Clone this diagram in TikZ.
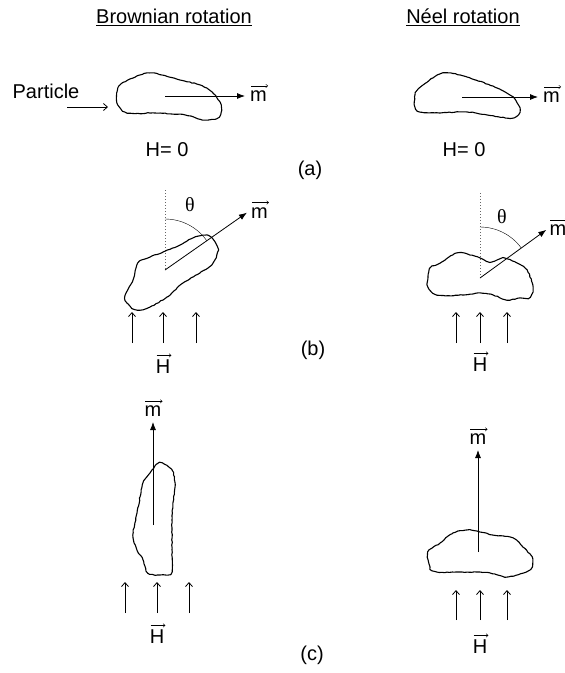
\documentclass[tikz,border=0pt]{standalone}
\usepackage{fontspec}
\setmainfont{Liberation Sans}
\newfontfamily\greekfont{Liberation Serif}
\usetikzlibrary{arrows.meta, positioning, decorations.pathmorphing}
\tikzset{every node/.style={font=\fontsize{20}{24}\selectfont, inner sep=1pt},
    particle/.style={line width=1.1pt, line join=round,
        decoration={random steps, segment length=2.5pt, amplitude=0.4pt}, decorate},
    moment/.style={-{Latex[length=8pt, width=6pt]}, line width=0.8pt},
    field/.style={-{Straight Barb[length=4pt, width=7pt]}, line width=0.8pt},
    axis/.style={dotted, line width=1pt, black!60},
    vecarrow/.style={draw, -{Straight Barb[length=2pt, width=3.5pt]}, line width=0.45pt},
    vector/.style={append after command={([xshift=2pt, yshift=3.5pt]\tikzlastnode.north west)
        edge[vecarrow] ([xshift=0pt, yshift=3.5pt]\tikzlastnode.north east)}}}

\begin{document}
\begin{tikzpicture}[x=1pt, y=-1pt]
    \useasboundingbox (0,0) rectangle (565,673);
    \node (brownian) at (174,17) {\underline{Brownian rotation}};
    \node (neel) at (463,17) {\underline{Néel rotation}};

    % (a) no field
    \node (particle) at (46,91) {Particle};
    \coordinate (pin) at (67,107);
    \coordinate (pout) at (108,107);
    \draw[field] (pin) -- (pout);
    \draw[particle] plot[smooth cycle] coordinates {(118,88) (128,80) (147,73) (162,75) (180,80) (200,85) (212,92)
        (221,105) (219,117) (205,120) (185,115) (155,113) (127,113) (117,103)};
    \coordinate (ca-b) at (165,96);
    \coordinate (ta-b) at (245,96);
    \draw[moment] (ca-b) -- (ta-b);
    \node[vector, right=4pt of ta-b] (ma-b) {m};
    \node (ha-b) at (167,150) {H= 0};

    \draw[particle] plot[smooth cycle] coordinates {(415,95) (423,85) (443,73) (467,77) (497,88) (513,97) (520,110)
        (513,118) (487,115) (467,112) (420,112)};
    \coordinate (ca-n) at (462,97);
    \coordinate (ta-n) at (538,97);
    \draw[moment] (ca-n) -- (ta-n);
    \node[vector, right=4pt of ta-n] (ma-n) {m};
    \node (ha-n) at (464,150) {H= 0};
    \node (lbl-a) at (310,170) {(a)};

    % (b) field switched on
    \coordinate (cb-b) at (165,270);
    \draw[axis] (165,190) -- (cb-b);
    \draw[particle] plot[smooth cycle] coordinates {(125,298) (133,280) (138,263) (150,257) (163,252) (180,245)
        (193,238) (207,235) (215,242) (218,250) (213,263) (200,273) (183,283) (167,297) (150,307) (140,310) (132,308)};
    \draw[moment] (cb-b) -- ++(-35:100) coordinate (tb-b);
    \draw (cb-b) ++(-90:51) arc[start angle=-90, end angle=-35, radius=51];
    \node (thb-b) at (190,205) {\greekfont θ};
    \node[vector, right=3pt of tb-b] (mb-b) {m};
    \foreach \x in {132,163,196}
        \draw[field] (\x,343) -- (\x,312);
    \node[vector] (hb-b) at (163,367) {H};

    \coordinate (cb-n) at (480,278);
    \draw[axis] (480,193) -- (cb-n);
    \draw[particle] plot[smooth cycle] coordinates {(428,277) (430,268) (440,263) (457,253) (470,255) (480,258)
        (490,262) (503,258) (517,263) (527,270) (533,287) (530,297) (520,298) (507,300) (493,295) (480,293)
        (463,295) (437,295) (428,287)};
    \draw[moment] (cb-n) -- ++(-36:82) coordinate (tb-n);
    \draw (cb-n) ++(-90:51) arc[start angle=-90, end angle=-36, radius=51];
    \node (thb-n) at (502,217) {\greekfont θ};
    \node[vector, right=2pt of tb-n] (mb-n) {m};
    \foreach \x in {456,480,507}
        \draw[field] (\x,343) -- (\x,312);
    \node[vector] (hb-n) at (480,365) {H};
    \node (lbl-b) at (313,350) {(b)};

    % (c) aligned with the field
    \draw[particle] plot[smooth cycle] coordinates {(160,463) (172,470) (175,487) (173,503) (172,520) (172,550)
        (172,572) (160,575) (148,573) (143,560) (137,550) (133,535) (137,513) (140,497) (143,483) (152,470)};
    \coordinate (cc-b) at (153,525);
    \coordinate (tc-b) at (153,422);
    \draw[moment] (cc-b) -- (tc-b);
    \node[vector, above=4pt of tc-b] (mc-b) {m};
    \foreach \x in {125,157,189}
        \draw[field] (\x,613) -- (\x,582);
    \node[vector] (hc-b) at (157,637) {H};

    \draw[particle] plot[smooth cycle] coordinates {(428,552) (440,543) (453,533) (467,530) (480,532) (493,535)
        (513,538) (523,547) (532,557) (532,567) (523,573) (507,577) (490,573) (477,572) (437,572) (430,567)};
    \coordinate (cc-n) at (478,552);
    \coordinate (tc-n) at (478,450);
    \draw[moment] (cc-n) -- (tc-n);
    \node[vector, above=4pt of tc-n] (mc-n) {m};
    \foreach \x in {456,480,507}
        \draw[field] (\x,620) -- (\x,590);
    \node[vector] (hc-n) at (480,647) {H};
    \node (lbl-c) at (312,655) {(c)};
\end{tikzpicture}
\end{document}
